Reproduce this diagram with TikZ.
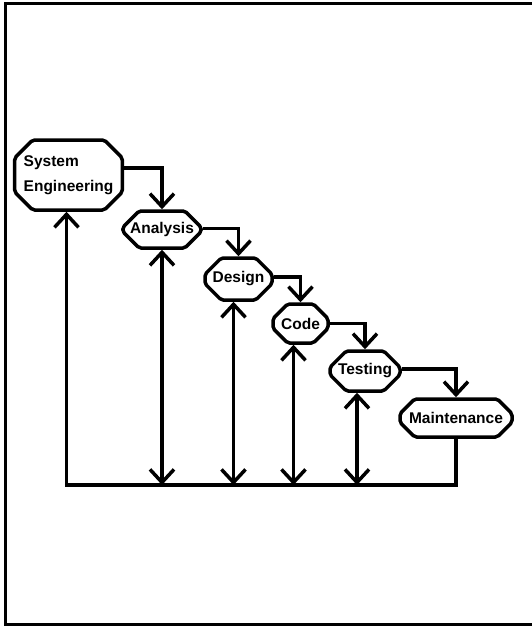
\documentclass[tikz,border=0pt]{standalone}
\usepackage{fontspec}
\setmainfont{Liberation Sans}
\usetikzlibrary{arrows.meta,shapes.misc}
\begin{document}
\begin{tikzpicture}[x=1pt,y=-1pt,
  phase/.style={draw, line width=3.5pt, chamfered rectangle,
    chamfered rectangle xsep=9pt, chamfered rectangle ysep=9pt,
    inner sep=0pt, rounded corners=2pt,
    font=\bfseries\fontsize{15.5}{25}\selectfont},
  wire/.style={line width=3.5pt},
  barb/.tip={Straight Barb[length=13pt,width=24pt,line width=3.5pt]},
  flow/.style={wire, -barb},
  both/.style={wire, barb-barb},
  frame/.style={line width=3pt}]
  \fill[white] (0,0) rectangle (531,626);
  \useasboundingbox (0,0) rectangle (531,626);

  % open frame, running off the right side
  \draw[frame] (533,4) -- (5,4) -- (5,624) -- (533,624);

  % phases of the waterfall
  \node[phase, minimum width=107pt, minimum height=70pt, align=left] (se) at (68.5,175) {System\\Engineering};
  \node[phase, minimum width=76pt, minimum height=37pt] (an) at (162,229.5) {Analysis};
  \node[phase, minimum width=67pt, minimum height=42pt] (de) at (238.5,279) {Design};
  \node[phase, minimum width=55pt, minimum height=39pt] (co) at (300.5,323.5) {Code};
  \node[phase, minimum width=70pt, minimum height=40pt] (te) at (365,371) {Testing};
  \node[phase, minimum width=112pt, minimum height=38pt] (mt) at (456,418) {Maintenance};

  % forward flow between phases
  \draw[flow] ([yshift=7pt]se.east) -| (an.north);
  \draw[flow] ([yshift=1pt]an.east) -| (de.north);
  \draw[flow] ([yshift=2pt]de.east) -| (co.north);
  \draw[flow] (co.east) -| (te.north);
  \draw[flow] ([yshift=2pt]te.east) -| (mt.north);

  % feedback bus
  \coordinate (bus) at (0,485);
  \coordinate (b0) at ([xshift=-2pt]se.south |- bus);
  \draw[flow] (mt.south) |- (b0) -- ([xshift=-2pt]se.south);
  \draw[both] (an.south) -- (an.south |- bus);
  \draw[both] ([xshift=-5pt]de.south) -- ([xshift=-5pt]de.south |- bus);
  \draw[both] ([xshift=-7pt]co.south) -- ([xshift=-7pt]co.south |- bus);
  \draw[both] ([xshift=-8pt]te.south) -- ([xshift=-8pt]te.south |- bus);
\end{tikzpicture}
\end{document}
